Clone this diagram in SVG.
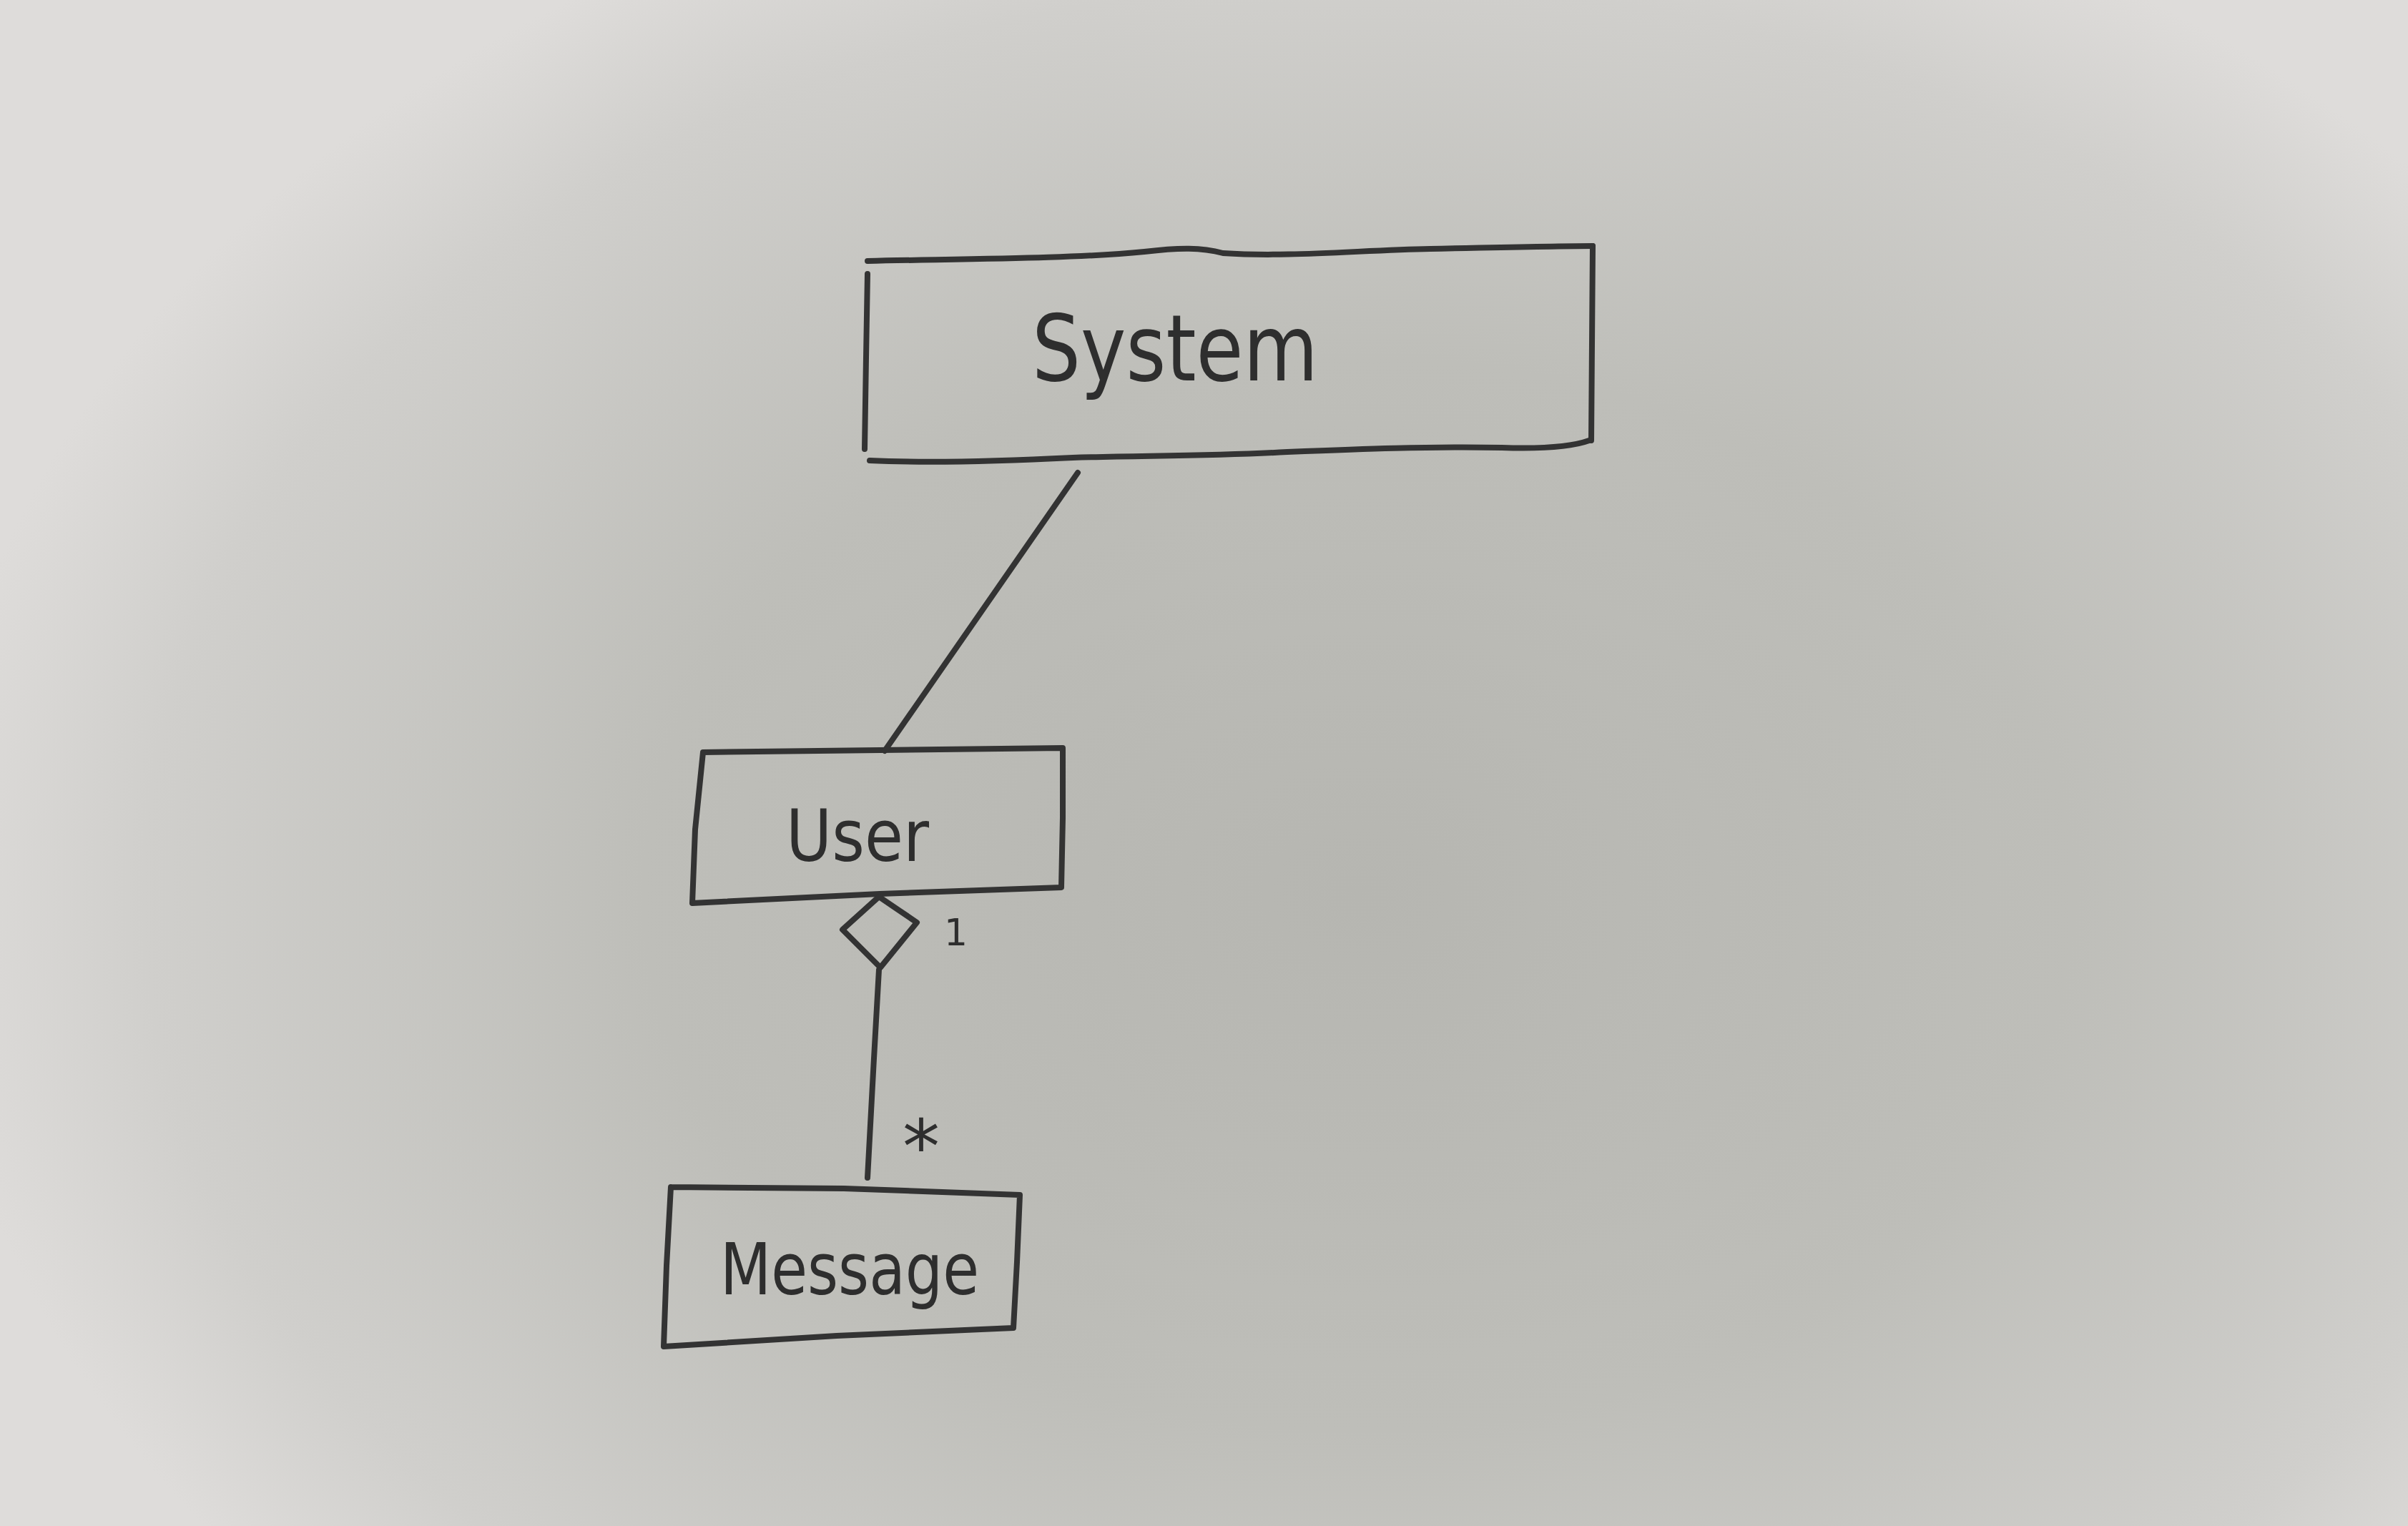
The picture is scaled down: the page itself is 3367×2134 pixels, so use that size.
<svg xmlns="http://www.w3.org/2000/svg" width="3367" height="2134" viewBox="0 0 3367 2134">
<defs>
<radialGradient id="bg" cx="1900" cy="1250" r="2000" gradientUnits="userSpaceOnUse" gradientTransform="translate(1900 1250) scale(1 0.75) translate(-1900 -1250)">
<stop offset="0" stop-color="#b6b6b1"/>
<stop offset="0.5" stop-color="#bebeb9"/>
<stop offset="0.85" stop-color="#d0cfcc"/>
<stop offset="1" stop-color="#dedcda"/>
</radialGradient>
<style>
.ln{fill:none;stroke:#333;stroke-width:8;stroke-linecap:round;stroke-linejoin:round}
.lbl{font-family:"DejaVu Sans","Liberation Sans",sans-serif;fill:#2e2e2e;text-anchor:start}
</style>
</defs>
<rect width="3367" height="2134" fill="url(#bg)"/>
<g id="system">
<path class="ln" d="M1213,365 C1350,362 1500,362 1600,352 C1650,346 1680,346 1710,354 C1800,360 1900,350 2000,348 C2100,346 2180,344 2227,344"/>
<path class="ln" d="M1213,383 L1211,500 L1209,628"/>
<path class="ln" d="M2227,344 L2226,480 L2225,616"/>
<path class="ln" d="M1216,644 C1300,648 1400,645 1500,640 C1600,637 1700,638 1800,632 C1900,628 2000,624 2100,626 C2160,628 2200,624 2222,616"/>
<text class="lbl" x="1443" y="532" font-size="128" textLength="400" lengthAdjust="spacingAndGlyphs">System</text>
</g>
<g id="user">
<path class="ln" d="M983,1052 L1230,1049 L1486,1046 L1486,1144 L1484,1241 L1230,1250 L968,1263 L972,1160 L983,1052"/>
<text class="lbl" x="1099" y="1204" font-size="100" textLength="200" lengthAdjust="spacingAndGlyphs">User</text>
</g>
<g id="message">
<path class="ln" d="M938,1660 L1180,1662 L1426,1671 L1422,1765 L1417,1857 L1170,1868 L928,1883 L932,1770 L938,1660"/>
<text class="lbl" x="1007" y="1810" font-size="100" textLength="362" lengthAdjust="spacingAndGlyphs">Message</text>
</g>
<g id="connectors">
<path class="ln" d="M1507,661 L1237,1050"/>
<path class="ln" d="M1229,1254 L1282,1290 L1231,1353 L1178,1300 Z"/>
<path class="ln" d="M1229,1356 L1222,1480 L1213,1647"/>
<text class="lbl" x="1320" y="1322" font-size="52" font-family="Liberation Sans, sans-serif">1</text>
<text class="lbl" x="1262" y="1640" font-size="104">*</text>
</g>
</svg>
